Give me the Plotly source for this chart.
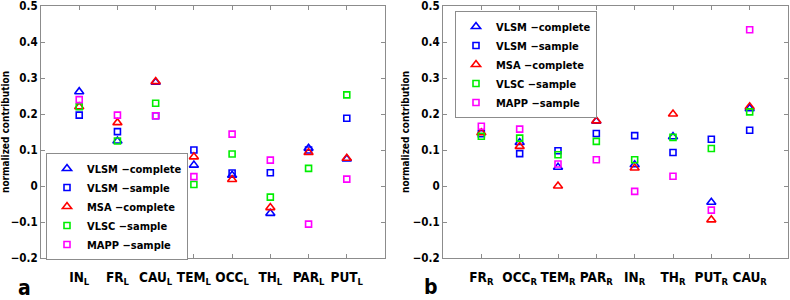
import plotly.graph_objects as go

# ---------------- data ----------------
cats_left = ["IN", "FR", "CAU", "TEM", "OCC", "TH", "PAR", "PUT"]
cats_right = ["FR", "OCC", "TEM", "PAR", "IN", "TH", "PUT", "CAU"]

series_names = ["VLSM \u2212complete", "VLSM \u2212sample", "MSA \u2212complete",
                "VLSC \u2212sample", "MAPP \u2212sample"]

vlsm_complete_L = [0.262, 0.125, 0.288, 0.058, 0.030, -0.076, 0.105, 0.075]
vlsm_sample_L = [0.197, 0.151, 0.195, 0.100, 0.036, 0.037, 0.100, 0.188]
msa_complete_L = [0.220, 0.176, 0.290, 0.081, 0.018, -0.060, 0.093, 0.077]
vlsc_sample_L = [0.220, 0.125, 0.230, 0.004, 0.089, -0.031, 0.049, 0.253]
mapp_sample_L = [0.240, 0.197, 0.195, 0.026, 0.144, 0.072, -0.106, 0.019]

vlsm_complete_R = [0.200, 0.121, 0.052, 0.180, 0.059, 0.137, -0.045, 0.215]
vlsm_sample_R = [0.145, 0.090, 0.098, 0.146, 0.140, 0.093, 0.130, 0.155]
msa_complete_R = [0.148, 0.110, 0.000, 0.181, 0.050, 0.200, -0.094, 0.220]
vlsc_sample_R = [0.138, 0.133, 0.087, 0.124, 0.073, 0.135, 0.104, 0.206]
mapp_sample_R = [0.166, 0.158, 0.061, 0.073, -0.015, 0.027, -0.067, 0.434]

y_ticks = [-0.2, -0.1, 0, 0.1, 0.2, 0.3, 0.4, 0.5]
y_tick_labels = ["\u22120.2", "\u22120.1", "0", "0.1", "0.2", "0.3", "0.4", "0.5"]

# ---------------- styles ----------------
FONT = "DejaVu Sans Condensed, DejaVu Sans, sans-serif"
colors = ["#0000ff", "#0000ff", "#ff0000", "#00ee00", "#ff00ff"]
symbols = ["triangle-up-open", "square-open", "triangle-up-open", "square-open", "square-open"]
sizes = [8, 6, 8, 6, 6]
AX = "#8c8c8c"

left_series = [vlsm_complete_L, vlsm_sample_L, msa_complete_L, vlsc_sample_L, mapp_sample_L]
right_series = [vlsm_complete_R, vlsm_sample_R, msa_complete_R, vlsc_sample_R, mapp_sample_R]

fig = go.Figure()
xpos = list(range(1, 9))

for i, name in enumerate(series_names):
    fig.add_trace(go.Scatter(
        x=xpos, y=left_series[i], mode="markers", name="<b>%s</b>" % name,
        marker=dict(symbol=symbols[i], size=sizes[i], color=colors[i],
                    line=dict(width=1.6, color=colors[i])),
        xaxis="x", yaxis="y", legend="legend"))
for i, name in enumerate(series_names):
    fig.add_trace(go.Scatter(
        x=xpos, y=right_series[i], mode="markers", name="<b>%s</b>" % name,
        marker=dict(symbol=symbols[i], size=sizes[i], color=colors[i],
                    line=dict(width=1.6, color=colors[i])),
        xaxis="x2", yaxis="y2", legend="legend2"))

W, H = 790, 300


def xaxis_cfg(domain, cats, side, anchor):
    return dict(
        domain=domain, range=[0, 9], tickmode="array", tickvals=xpos, anchor=anchor,
        ticktext=["<b>%s<sub>%s</sub></b>" % (c, side) for c in cats],
        ticks="inside", ticklen=4, tickcolor=AX, showline=True, linecolor=AX,
        linewidth=1, mirror="ticks", showgrid=False, zeroline=False, tickangle=0,
        automargin=False,
        tickfont=dict(family=FONT, size=13.5, color="black"), ticklabelstandoff=7)


def yaxis_cfg(domain, anchor):
    return dict(
        domain=domain, range=[-0.2, 0.5], tickmode="array", tickvals=y_ticks,
        ticktext=["<b>%s</b>" % t for t in y_tick_labels], anchor=anchor,
        ticks="inside", ticklen=4, tickcolor=AX, showline=True, linecolor=AX,
        linewidth=1, mirror="ticks", showgrid=False, zeroline=False,
        ticklabeloverflow="allow", automargin=False,
        tickfont=dict(family=FONT, size=11.5, color="black"))


ydom = [1 - 258 / H, 1 - 6 / H]
fig.update_layout(
    width=W, height=H, margin=dict(l=0, r=0, t=0, b=0, autoexpand=False),
    paper_bgcolor="white", plot_bgcolor="white",
    font=dict(family=FONT, color="black"),
    xaxis=xaxis_cfg([41 / W, 385 / W], cats_left, "L", "y"),
    yaxis=yaxis_cfg(ydom, "x"),
    xaxis2=xaxis_cfg([443 / W, 788 / W], cats_right, "R", "y2"),
    yaxis2=yaxis_cfg(ydom, "x2"),
    legend=dict(x=46 / W, y=1 - 153 / H, xanchor="left", yanchor="top",
                bgcolor="white", bordercolor=AX, borderwidth=1,
                font=dict(family=FONT, size=11, color="black")),
    legend2=dict(x=455 / W, y=1 - 11 / H, xanchor="left", yanchor="top",
                 bgcolor="white", bordercolor=AX, borderwidth=1,
                 font=dict(family=FONT, size=11, color="black")),
    showlegend=True,
)

annots = [
    dict(text="<b>normalized contribution</b>", x=6 / W, y=1 - 132 / H, textangle=-90,
         font=dict(size=10)),
    dict(text="<b>normalized contribution</b>", x=406 / W, y=1 - 132 / H, textangle=-90,
         font=dict(size=10)),
    dict(text="<b>a</b>", x=24 / W, y=1 - 288 / H, font=dict(size=21)),
    dict(text="<b>b</b>", x=431 / W, y=1 - 287 / H, font=dict(size=21)),
]
for a in annots:
    fig.add_annotation(xref="paper", yref="paper", showarrow=False,
                       xanchor="center", yanchor="middle", **a)

fig.write_html("out.html", config={"displayModeBar": False},
               post_script="document.body.style.margin='0';document.body.style.padding='0';")
